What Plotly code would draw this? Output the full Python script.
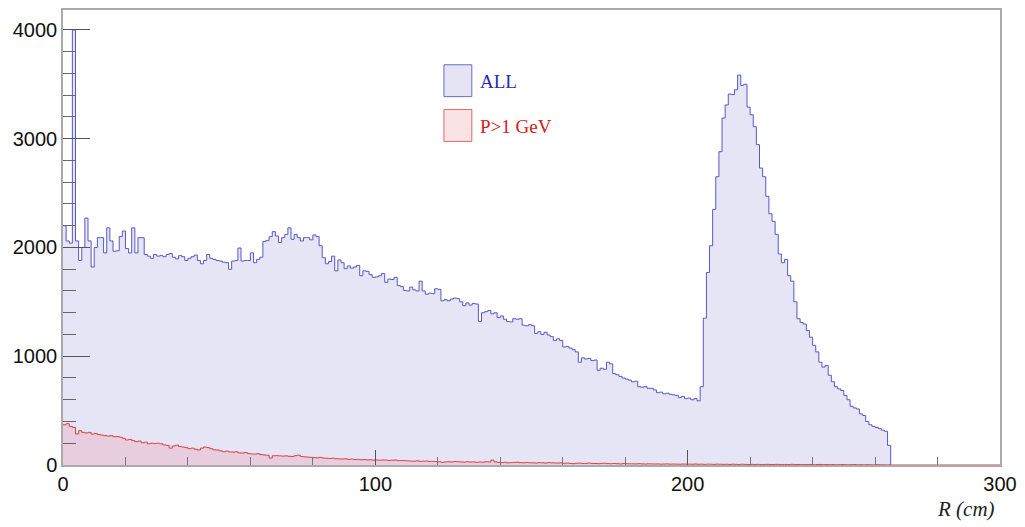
import numpy as np
import plotly.graph_objects as go

# 1 cm bins starting at R = 0
all_counts = [
    2200, 2060, 2040, 4000, 2060, 1880, 2000, 2270, 2060, 1820,
    2000, 2090, 2090, 1950, 2180, 2060, 1965, 1970, 2100, 2150,
    1990, 1950, 2180, 1950, 2090, 2090, 1935, 1920, 1900, 1935,
    1920, 1925, 1915, 1935, 1945, 1910, 1895, 1925, 1915, 1880,
    1900, 1915, 1930, 1880, 1850, 1880, 1935, 1900, 1890, 1880,
    1875, 1865, 1860, 1800, 1875, 1880, 1995, 1875, 1880, 1880,
    1950, 1860, 1890, 1910, 2055, 2065, 2100, 2145, 2105, 2045,
    2090, 2120, 2180, 2075, 2120, 2090, 2060, 2090, 2090, 2070,
    2115, 2100, 2015, 1905, 1850, 1870, 1920, 1785, 1885, 1860,
    1805, 1830, 1810, 1820, 1835, 1740, 1785, 1780, 1750, 1725,
    1730, 1740, 1760, 1680, 1710, 1705, 1725, 1650, 1640, 1605,
    1600, 1635, 1610, 1600, 1690, 1600, 1570, 1580, 1575, 1620,
    1615, 1510, 1520, 1510, 1525, 1535, 1530, 1500, 1465, 1490,
    1470, 1485, 1480, 1320, 1400, 1410, 1420, 1390, 1400, 1355,
    1370, 1340, 1320, 1315, 1345, 1340, 1345, 1285, 1280, 1290,
    1280, 1210, 1225, 1200, 1220, 1195, 1180, 1145, 1160, 1145,
    1085, 1090, 1075, 1060, 1040, 945, 985, 975, 980, 960,
    965, 870, 890, 880, 945, 930, 840, 830, 815, 800,
    790, 780, 765, 770, 720, 715, 720, 705, 705, 690,
    665, 670, 655, 660, 650, 645, 640, 620, 630, 610,
    615, 600, 610, 590, 720, 1350, 1770, 2015, 2350, 2650,
    2880, 3190, 3310, 3410, 3405, 3450, 3585, 3490, 3500, 3290,
    3220, 3110, 2945, 2730, 2650, 2470, 2310, 2240, 2120, 1940,
    1860, 1890, 1740, 1690, 1500, 1345, 1310, 1295, 1235, 1175,
    1100, 1040, 945, 900, 915, 825, 765, 720, 700, 685,
    640, 600, 540, 525, 515, 470, 455, 400, 370, 355,
    345, 335, 320, 310, 180,
]

p1gev_counts = [
    370, 380, 355, 345, 285, 315, 300, 295, 300, 285,
    290, 280, 275, 270, 265, 270, 260, 262, 255, 245,
    230, 235, 225, 215, 220, 205, 210, 195, 200, 198,
    200, 195, 185, 180, 155, 175, 182, 170, 165, 160,
    150, 155, 145, 138, 155, 165, 160, 150, 140, 138,
    130, 122, 128, 120, 118, 122, 112, 110, 115, 105,
    102, 100, 104, 96, 92, 90, 64, 85, 86, 84,
    82, 84, 80, 78, 86, 90, 78, 75, 72, 70,
    68, 66, 70, 64, 62, 60, 62, 58, 56, 55,
    57, 52, 54, 50, 52, 48, 50, 47, 48, 45,
    46, 44, 46, 45, 42, 44, 46, 40, 42, 40,
    38, 36, 35, 38, 34, 35, 36, 33, 34, 32,
    30, 25, 28, 30, 28, 32, 30, 28, 26, 30,
    27, 28, 25, 27, 26, 30, 28, 45, 28, 24,
    22, 25, 20, 22, 24, 25, 22, 20, 24, 21,
    20, 18, 22, 20, 18, 22, 20, 19, 18, 20,
    16, 18, 15, 12, 16, 18, 14, 15, 18, 15,
    14, 12, 15, 16, 13, 12, 14, 12, 10, 13,
    12, 11, 11, 10, 12, 10, 9, 11, 10, 9,
    10, 8, 9, 10, 8, 9, 8, 7, 9, 8,
    8, 7, 9, 7, 8, 6, 8, 7, 6, 8,
    7, 6, 7, 5, 7, 6, 5, 7, 6, 5,
    6, 5, 6, 4, 5, 6, 5, 4, 6, 5,
    4, 5, 4, 6, 4, 5, 3, 4, 5, 4,
    3, 4, 5, 3, 4, 3, 4, 2, 3, 4,
    3, 2, 3, 4, 2, 3, 2, 3, 2, 1,
    3, 2, 2, 1, 1,
]

BIN_WIDTH = 1.0
X_MAX = 300
Y_MAX = 4183
series_names = ["ALL", "P>1 GeV"]
x_ticks = [0, 100, 200, 300]
y_ticks = [0, 1000, 2000, 3000, 4000]


def step_xy(counts, x_end=None):
    edges = list(np.arange(len(counts) + 1) * BIN_WIDTH)
    ys = list(counts) + [0]
    if x_end is not None:
        edges.append(x_end)
        ys.append(0)
    return edges, ys


fig = go.Figure()

xa, ya = step_xy(all_counts)
fig.add_trace(go.Scatter(
    x=xa, y=ya, mode="lines", line=dict(shape="hv", color="#5858c8", width=1),
    fill="tozeroy", fillcolor="rgba(0,0,170,0.10)", name=series_names[0],
    showlegend=False, hoverinfo="skip",
))

xr, yr = step_xy(p1gev_counts, X_MAX)
fig.add_trace(go.Scatter(
    x=xr, y=yr, mode="lines", line=dict(shape="hv", color="#dd4040", width=1),
    fill="tozeroy", fillcolor="rgba(255,0,0,0.10)", name=series_names[1],
    showlegend=False, hoverinfo="skip",
))

# plot area in pixels: x 63..1005, y 8..465
L, R, T, B = 63, 1005, 8, 465
W, H = R - L, B - T


def px(xp):
    return (xp - L) / W


def py(yp):
    return (B - yp) / H


# manual legend (ROOT-style boxes)
shapes = [
    dict(type="rect", xref="paper", yref="paper", x0=px(446), x1=px(474),
         y0=py(95), y1=py(63), line=dict(color="#6a6ad0", width=1),
         fillcolor="#e4e4f4"),
    dict(type="rect", xref="paper", yref="paper", x0=px(446), x1=px(474),
         y0=py(140), y1=py(108), line=dict(color="#e06a6a", width=1),
         fillcolor="#fae3e5"),
]
annotations = [
    dict(xref="paper", yref="paper", x=px(480), y=py(80), text=series_names[0],
         showarrow=False, xanchor="left", yanchor="middle",
         font=dict(family="Liberation Serif", size=19, color="#2a2ab0")),
    dict(xref="paper", yref="paper", x=px(480), y=py(125), text="P&gt;1 GeV",
         showarrow=False, xanchor="left", yanchor="middle",
         font=dict(family="Liberation Serif", size=19, color="#d42020")),
    dict(xref="paper", yref="paper", x=px(1002), y=py(509),
         text="<i>R (cm)</i>", showarrow=False, xanchor="right", yanchor="middle",
         font=dict(family="Liberation Serif", size=21, color="#222")),
]

fig.update_layout(
    width=1025, height=527,
    margin=dict(l=L, r=1025 - R, t=T, b=527 - B),
    paper_bgcolor="white", plot_bgcolor="white",
    shapes=shapes, annotations=annotations,
    showlegend=False,
)
fig.update_xaxes(
    range=[0, X_MAX], tickvals=x_ticks, ticks="inside", ticklen=15,
    tickcolor="#555", tickwidth=1,
    minor=dict(ticks="inside", ticklen=8, dtick=20, tickcolor="#777", showgrid=False),
    showgrid=False, zeroline=False, showline=True, mirror=True,
    linecolor="#aaaaaa", linewidth=1.5,
    tickfont=dict(family="Liberation Sans", size=20, color="#111"),
)
fig.update_yaxes(
    range=[0, Y_MAX], tickvals=y_ticks, ticks="inside", ticklen=27,
    tickcolor="#555", tickwidth=1,
    minor=dict(ticks="inside", ticklen=13, dtick=200, tickcolor="#666", showgrid=False),
    showgrid=False, zeroline=False, showline=True, mirror=True,
    linecolor="#aaaaaa", linewidth=1.5,
    tickfont=dict(family="Liberation Sans", size=20, color="#111"),
)

fig.write_html("out.html")
